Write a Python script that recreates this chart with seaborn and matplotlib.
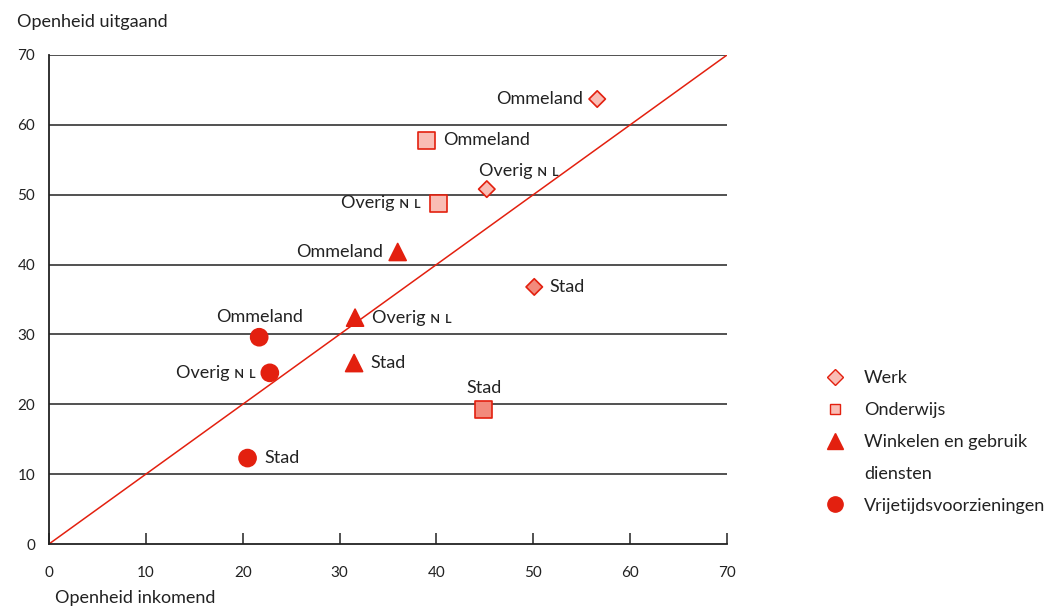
import matplotlib
matplotlib.use("Agg")
import matplotlib.pyplot as plt
import pandas as pd
import seaborn as sns
from matplotlib.lines import Line2D

# data
categories = ["Werk", "Onderwijs", "Winkelen en gebruik diensten", "Vrijetijdsvoorzieningen"]
legend_labels = ["Werk", "Onderwijs", "Winkelen en gebruik", "diensten", "Vrijetijdsvoorzieningen"]
areas = ["Ommeland", "Overig ɴ ʟ", "Stad"]
werk_x = [56.6, 45.2, 50.1]
werk_y = [63.7, 50.8, 36.8]
onderwijs_x = [39.0, 40.2, 44.9]
onderwijs_y = [57.8, 48.8, 19.3]
winkelen_x = [36.0, 31.6, 31.5]
winkelen_y = [41.8, 32.4, 25.9]
vrije_x = [21.7, 22.8, 20.5]
vrije_y = [29.6, 24.5, 12.3]
ticks = [0, 10, 20, 30, 40, 50, 60, 70]

RED = "#e3200f"
LIGHT = "#f9bdb5"
DARK = "#f28a7c"
INK = "#222222"

rows = []
for cat, xs, ys in zip(categories, [werk_x, onderwijs_x, winkelen_x, vrije_x],
                       [werk_y, onderwijs_y, winkelen_y, vrije_y]):
    for area, x, y in zip(areas, xs, ys):
        rows.append({"categorie": cat, "gebied": area, "x": x, "y": y})
df = pd.DataFrame(rows)

sns.set_theme(style="white")
plt.rcParams["font.family"] = ["Lato", "DejaVu Sans"]

fig = plt.figure(figsize=(10.53, 6.08), dpi=100)
ax = fig.add_axes([49 / 1053, 1 - 544 / 608, (727 - 49) / 1053, (544 - 55) / 608])

ax.set_xlim(0, 70)
ax.set_ylim(0, 70)
for t in ticks[1:]:
    ax.axhline(t, color=INK, lw=1.1, zorder=1)
ax.plot([0, 70], [0, 70], color=RED, lw=1.1, zorder=2)

styles = {
    categories[0]: dict(marker="D", s=70, pal={"Ommeland": LIGHT, "Overig ɴ ʟ": LIGHT, "Stad": DARK}),
    categories[1]: dict(marker="s", s=150, pal={"Ommeland": LIGHT, "Overig ɴ ʟ": LIGHT, "Stad": DARK}),
    categories[2]: dict(marker="^", s=150, pal={a: RED for a in areas}),
    categories[3]: dict(marker="o", s=150, pal={a: RED for a in areas}),
}
for cat in categories:
    st = styles[cat]
    sub = df[df["categorie"] == cat]
    sns.scatterplot(data=sub, x="x", y="y", hue="gebied", palette=st["pal"],
                    marker=st["marker"], s=st["s"], edgecolor=RED,
                    linewidth=1.2, legend=False, ax=ax, zorder=3)

# label placement (pixel offsets, alignment)
label_pos = {
    (categories[0], "Ommeland"): (-14, 0, "right", "center"),
    (categories[0], "Overig ɴ ʟ"): (-8, 10, "left", "bottom"),
    (categories[0], "Stad"): (15, 0, "left", "center"),
    (categories[1], "Ommeland"): (16, 0, "left", "center"),
    (categories[1], "Overig ɴ ʟ"): (-18, 0, "right", "center"),
    (categories[1], "Stad"): (0, 13, "center", "bottom"),
    (categories[2], "Ommeland"): (-15, 0, "right", "center"),
    (categories[2], "Overig ɴ ʟ"): (17, 0, "left", "center"),
    (categories[2], "Stad"): (16, 0, "left", "center"),
    (categories[3], "Ommeland"): (0, 12, "center", "bottom"),
    (categories[3], "Overig ɴ ʟ"): (-14, 0, "right", "center"),
    (categories[3], "Stad"): (17, 0, "left", "center"),
}
for _, r in df.iterrows():
    dx, dy, ha, va = label_pos[(r["categorie"], r["gebied"])]
    ax.annotate(r["gebied"], (r["x"], r["y"]), xytext=(dx, dy), textcoords="offset pixels",
                ha=ha, va=va, fontsize=13, color=INK, zorder=4)

ax.set_xticks(ticks)
ax.set_yticks(ticks)
ax.set_xticklabels([str(t) for t in ticks], fontsize=11, color=INK)
ax.set_yticklabels([str(t) for t in ticks], fontsize=11, color=INK)
ax.tick_params(axis="x", direction="in", length=8, width=1.1, color=INK, pad=16, bottom=True)
ax.tick_params(axis="y", length=0, pad=10, left=False)
ax.set_xlabel("")
ax.set_ylabel("")
for side in ["top", "right"]:
    ax.spines[side].set_visible(False)
for side in ["left", "bottom"]:
    ax.spines[side].set_color(INK)
    ax.spines[side].set_linewidth(1.3)

fig.text(17 / 1053, 1 - 22 / 608, "Openheid uitgaand", fontsize=13, color=INK, va="center")
fig.text(55 / 1053, 1 - 598 / 608, "Openheid inkomend", fontsize=13, color=INK, va="center")

handles = [
    Line2D([], [], marker="D", ls="", ms=8, mfc=LIGHT, mec=RED, mew=1),
    Line2D([], [], marker="s", ls="", ms=7, mfc=LIGHT, mec=RED, mew=1),
    Line2D([], [], marker="^", ls="", ms=11, mfc=RED, mec=RED),
    Line2D([], [], ls="", marker=""),
    Line2D([], [], marker="o", ls="", ms=11, mfc=RED, mec=RED),
]
leg = fig.legend(handles, legend_labels, loc="upper left", bbox_to_anchor=(808 / 1053, 1 - 354 / 608),
                 frameon=False, fontsize=13, handlelength=1.2, handletextpad=1.0,
                 labelspacing=0.88, labelcolor=INK)

fig.savefig("out.png", dpi=100)
